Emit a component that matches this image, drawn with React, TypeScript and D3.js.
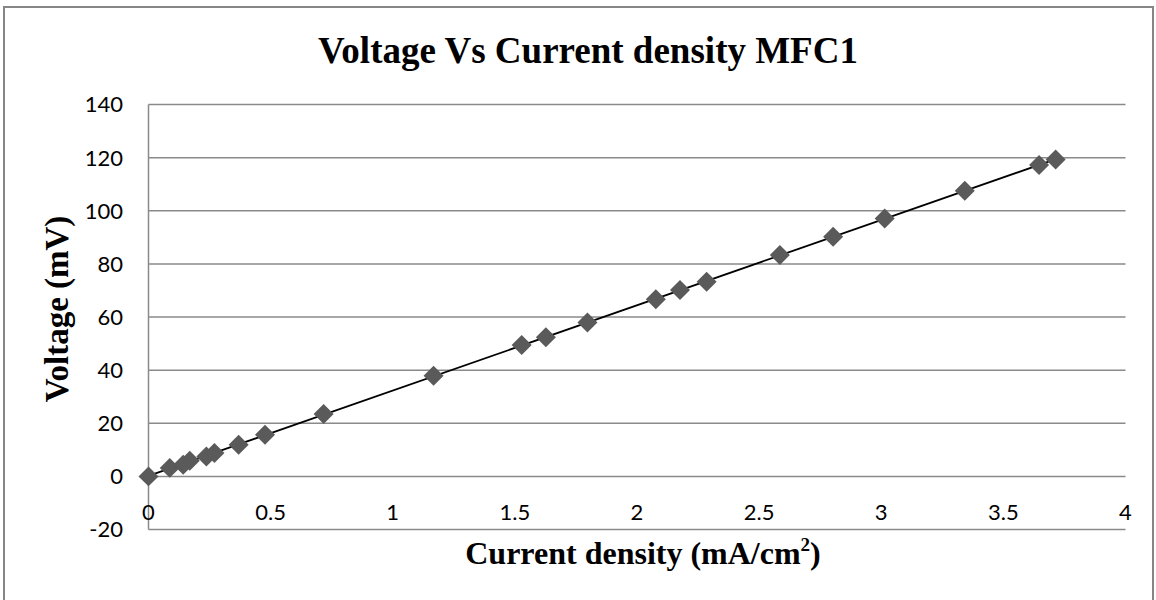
import React from "react";
import * as d3 from "d3";

const currentDensity = [0, 0.087, 0.142, 0.169, 0.237, 0.27, 0.369, 0.477, 0.717, 1.167, 1.528, 1.627, 1.797, 2.077, 2.176, 2.285, 2.585, 2.803, 3.014, 3.342, 3.646, 3.714];
const voltage = [0, 3.2, 4.4, 5.9, 7.5, 8.8, 11.9, 15.7, 23.5, 37.9, 49.5, 52.4, 57.9, 66.7, 70.2, 73.3, 83.3, 90.2, 97.1, 107.5, 117.2, 119.3];
const xTicks = [0, 0.5, 1, 1.5, 2, 2.5, 3, 3.5, 4];
const yTicks = [-20, 0, 20, 40, 60, 80, 100, 120, 140];

const W = 1156;
const H = 600;
const left = 148.5;
const right = 1125.5;
const top = 104.5;
const bottom = 529.5;

export default function App() {
  const x = d3.scaleLinear().domain([0, 4]).range([left, right]);
  const y = d3.scaleLinear().domain([-20, 140]).range([bottom, top]);

  const n = currentDensity.length;
  const mx = d3.mean(currentDensity) as number;
  const my = d3.mean(voltage) as number;
  let sxy = 0, sxx = 0;
  for (let i = 0; i < n; i++) {
    sxy += (currentDensity[i] - mx) * (voltage[i] - my);
    sxx += (currentDensity[i] - mx) ** 2;
  }
  const slope = sxy / sxx;
  const intercept = my - slope * mx;
  const xMin = d3.min(currentDensity) as number;
  const xMax = d3.max(currentDensity) as number;
  const trend = d3.line<number>().x((d) => x(d)).y((d) => y(slope * d + intercept))([xMin, xMax]) as string;

  const diamond = d3.symbol().type(d3.symbolSquare).size(200)() as string;
  const gridColor = "#8a8a8a";
  const tickFont = "Lato, 'Open Sans', sans-serif";

  return (
    <svg width={W} height={H} style={{ position: "absolute", left: 0, top: 0, background: "#fff" }}>
      <rect x={0} y={0} width={W} height={H} fill="#fff" />
      <path d={`M4,${H + 5} L4,7 L1153,7 L1153,${H + 5}`} fill="none" stroke="#868686" strokeWidth={2} />
      <text x={588} y={63} textAnchor="middle" fontFamily="'Liberation Serif', 'Times New Roman', serif" fontWeight="bold" fontSize={37}>
        Voltage Vs Current density MFC1
      </text>
      {yTicks.map((t) => (
        <line key={"g" + t} x1={left} x2={right} y1={y(t)} y2={y(t)} stroke={gridColor} strokeWidth={1.5} />
      ))}
      <line x1={left} x2={left} y1={top} y2={bottom} stroke={gridColor} strokeWidth={1.5} />
      {yTicks.map((t) => (
        <text key={"yl" + t} x={123} y={y(t)} dy="0.36em" textAnchor="end" fontFamily={tickFont} fontSize={22} fill="#000">
          {t}
        </text>
      ))}
      {xTicks.map((t) => (
        <text key={"xl" + t} x={x(t)} y={520} textAnchor="middle" fontFamily={tickFont} fontSize={22} fill="#000">
          {t}
        </text>
      ))}
      <path d={trend} fill="none" stroke="#000" strokeWidth={1.8} />
      {currentDensity.map((cd, i) => (
        <path key={"p" + i} d={diamond} transform={`translate(${x(cd)},${y(voltage[i])}) rotate(45)`} fill="#5a5a5a" />
      ))}
      <text transform={`translate(68,309) rotate(-90)`} textAnchor="middle" fontFamily="'Liberation Serif', 'Times New Roman', serif" fontWeight="bold" fontSize={33}>
        Voltage (mV)
      </text>
      <text x={643} y={564} textAnchor="middle" fontFamily="'Liberation Serif', 'Times New Roman', serif" fontWeight="bold" fontSize={32}>
        Current density (mA/cm<tspan fontSize={19} dy={-13}>2</tspan><tspan dy={13}>)</tspan>
      </text>
    </svg>
  );
}
